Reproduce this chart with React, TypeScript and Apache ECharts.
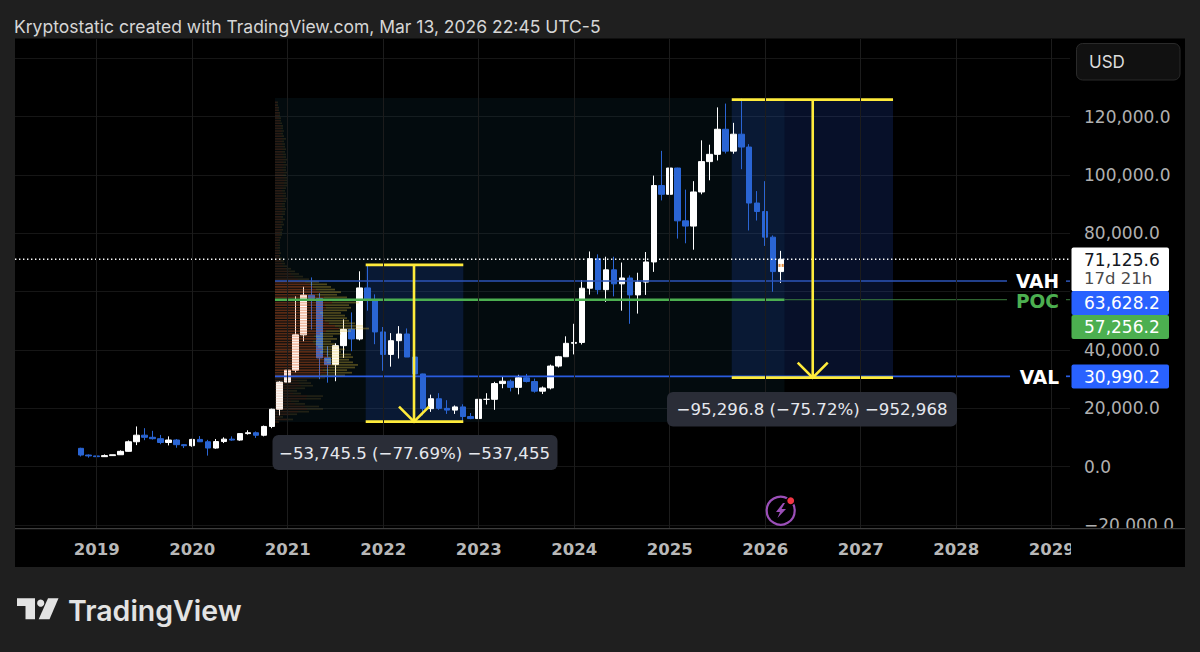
import React, { useEffect, useRef } from "react";
import * as echarts from "echarts";

const months = [
  "2018-11","2018-12",
  "2019-01","2019-02","2019-03","2019-04","2019-05","2019-06","2019-07","2019-08","2019-09","2019-10","2019-11","2019-12",
  "2020-01","2020-02","2020-03","2020-04","2020-05","2020-06","2020-07","2020-08","2020-09","2020-10","2020-11","2020-12",
  "2021-01","2021-02","2021-03","2021-04","2021-05","2021-06","2021-07","2021-08","2021-09","2021-10","2021-11","2021-12",
  "2022-01","2022-02","2022-03","2022-04","2022-05","2022-06","2022-07","2022-08","2022-09","2022-10","2022-11","2022-12",
  "2023-01","2023-02","2023-03","2023-04","2023-05","2023-06","2023-07","2023-08","2023-09","2023-10","2023-11","2023-12",
  "2024-01","2024-02","2024-03","2024-04","2024-05","2024-06","2024-07","2024-08","2024-09","2024-10","2024-11","2024-12",
  "2025-01","2025-02","2025-03","2025-04","2025-05","2025-06","2025-07","2025-08","2025-09","2025-10","2025-11","2025-12",
  "2026-01","2026-02","2026-03",
];
const opens = [6300,4000,3700,3440,3800,4100,5270,8550,10800,10080,9600,8300,9150,7550,7200,9350,8550,6400,8620,9450,9140,11350,11650,10780,13800,19700,29000,33100,45200,58800,57700,37300,35000,41500,47100,43800,61300,57000,46200,38500,43200,45500,37600,31800,19900,23300,20000,19400,20500,17200,16500,23100,23100,28500,29300,27200,30500,29200,25900,27000,34500,37700,42300,42600,61200,71300,60700,67500,62700,64700,58900,63300,70200,96400,93400,102400,84300,82500,94200,104600,107100,115700,108200,114000,109600,90400,87500,78700,66900];
const highs = [6500,4200,4100,4200,4100,5600,9000,13800,13200,12300,10900,10400,9500,7750,9550,10500,9200,9500,10070,10400,11400,12480,12070,14100,19900,29300,41900,58400,61700,64900,59500,41300,42300,50500,52900,67000,69000,59100,47900,45800,48200,47400,40000,31900,24700,25200,22800,21000,21400,18400,23900,25200,29100,31000,29900,31500,31800,30200,27500,35000,38000,44700,49000,64000,73800,72800,72000,72000,70000,65600,66500,73600,99800,108300,109000,102500,95000,97900,111900,110400,123200,124500,117900,126200,110600,94500,97900,79300,74000];
const lows = [3500,3100,3350,3350,3700,4100,5350,7400,9100,9300,7700,7300,6500,6400,6850,8500,3800,6150,8100,8900,8900,11000,9880,10400,13200,17600,28000,32300,43000,47000,30000,28800,29300,37300,39600,43300,53500,42000,32900,34300,37100,37600,26500,17600,18800,19500,18100,18100,15500,16300,16500,21300,19500,26900,25800,24800,28900,25400,24900,26500,34000,37600,38500,41900,59000,59100,56500,58400,53500,49000,52500,58900,66800,91300,89200,78200,76600,74400,93400,98200,105000,107400,107300,102000,81000,84400,75700,60000,63000];
const closes = [4000,3700,3440,3800,4100,5270,8550,10800,10080,9600,8300,9150,7550,7200,9350,8550,6400,8620,9450,9140,11350,11650,10780,13800,19700,29000,33100,45200,58800,57700,37300,35000,41500,47100,43800,61300,57000,46200,38500,43200,45500,37600,31800,19900,23300,20000,19400,20500,17200,16500,23100,23100,28500,29300,27200,30500,29200,25900,27000,34500,37700,42300,42600,61200,71300,60700,67500,62700,64700,58900,63300,70200,96400,93400,102400,84300,82500,94200,104600,107100,115700,108200,114000,109600,90400,87500,78700,66900,71125.6];

const yearTicks = [2019,2020,2021,2022,2023,2024,2025,2026,2027,2028,2029];
const priceTicks = [-20000,0,20000,40000,60000,80000,100000,120000,140000];
const priceTickLabels = [-20000,0,20000,40000,80000,100000,120000];

const currentPrice = 71125.6;
const vahPrice = 63628.2;
const pocPrice = 57256.2;
const valPrice = 30990.2;

const profileBottom = 15300;
const profileStep = 891;
const profileLeftVol = [3,12,5,15,23,32,30,20,16,31,32,18,15,20,26,24,22,34,46,52,48,54,56,52,50,53,51,45,47,43,40,38,42,39,45,51,64,60,54,50,49,47,45,49,51,50,57,62,49,42,45,41,38,35,30,23,19,16,14,11,8,7,6,
  5,4,4,4,3,4,3,4,4,5,5,6,5,6,6,7,6,7,7,8,7,7,8,9,8,8,7,8,9,9,10,9,8,9,8,8,9,8,9,8,8,7,8,8,7,7,8,7,6,7,6,6,5,5,4,4,4,3,3,2,2];
const profileRightVol = [1,6,3,7,11,16,14,10,8,15,16,8,7,10,12,12,10,16,24,25,24,26,27,26,24,25,25,21,23,21,20,18,20,19,21,25,30,28,26,24,23,23,21,23,25,24,27,30,23,20,21,19,18,17,14,11,9,8,6,5,4,3,3,
  2,1,2,1,2,1,2,1,2,2,2,2,2,3,2,3,2,3,3,3,3,3,3,3,3,3,3,3,3,4,3,3,3,3,3,3,3,3,3,3,3,3,3,2,3,2,3,2,2,2,2,2,2,1,2,1,1,1,1,1,1];

const measureOneFrom = 69198;
const measureOneTo = 15452.5;
const measureTwoFrom = 125853.8;
const measureTwoTo = 30557;

const X_MIN = 2018.1448;
const X_MAX = 2029.192;
const FONT = "Inter, 'Noto Sans', sans-serif";
const NUM_FONT = "'DejaVu Sans', sans-serif";
const BLUE = "#2a65d4";
const YELLOW = "#ffeb3b";

const fmtPrice = (v: number) =>
  (v < 0 ? "\u2212" : "") + Math.abs(v).toLocaleString("en-US", { minimumFractionDigits: 1, maximumFractionDigits: 1 });
const xOf = (m: string) => {
  const [y, mo] = m.split("-").map(Number);
  return y + (mo - 1) / 12;
};

function overlay(z: number, draw: (api: any) => any[]) {
  return {
    type: "custom",
    z,
    silent: true,
    clip: false,
    xAxisIndex: 0,
    yAxisIndex: 0,
    data: [[2020, 0]],
    encode: { x: 0, y: 1 },
    renderItem: (_p: any, api: any) => ({ type: "group", children: draw(api) }),
  };
}
function boxShape(api: any, x1: number, x2: number, p1: number, p2: number, fill: string) {
  const a = api.coord([x1, p1]);
  const b = api.coord([x2, p2]);
  return { type: "rect", shape: { x: a[0], y: a[1], width: b[0] - a[0], height: b[1] - a[1] }, style: { fill } };
}
function hLine(api: any, x1: number, x2: number, p: number, stroke: string, lineWidth: number, lineDash?: number[]) {
  const a = api.coord([x1, p]);
  const b = api.coord([x2, p]);
  return { type: "line", shape: { x1: a[0], y1: a[1], x2: b[0], y2: b[1] }, style: { stroke, lineWidth, lineDash } };
}
function measure(api: any, left: number, right: number, mid: number, from: number, to: number) {
  const t = api.coord([mid, from]);
  const b = api.coord([mid, to]);
  return [
    hLine(api, left, right, from, YELLOW, 2.8),
    hLine(api, left, right, to, YELLOW, 2.8),
    { type: "line", shape: { x1: t[0], y1: t[1], x2: b[0], y2: b[1] }, style: { stroke: YELLOW, lineWidth: 2.6 } },
    {
      type: "polyline",
      shape: { points: [[b[0] - 15, b[1] - 15], [b[0], b[1]], [b[0] + 15, b[1] - 15]] },
      style: { stroke: YELLOW, lineWidth: 2.6, fill: "none" },
    },
  ];
}

const txt = (text: string, x: number, y: number, size: number, fill: string, z = 100, weight: any = 400, align = "left", family = FONT) => ({
  type: "text", x, y, z, silent: true,
  style: { text, fill, fontSize: size, fontWeight: weight, fontFamily: family, textAlign: align, textVerticalAlign: "middle" },
});
const box = (x: number, y: number, w: number, h: number, fill: string, z = 90, r = 0, stroke?: string) => ({
  type: "rect", z, silent: true,
  shape: { x, y, width: w, height: h, r },
  style: { fill, stroke, lineWidth: stroke ? 1 : 0 },
});

export default function App() {
  const ref = useRef<HTMLDivElement>(null);
  useEffect(() => {
    document.body.style.margin = "0";
    document.body.style.background = "#1f1f1f";
    const chart = echarts.init(ref.current!, undefined, { renderer: "svg" });

    const candleData = months.map((m, i) => [xOf(m), opens[i], closes[i], lows[i], highs[i]]);
    const profileData = profileLeftVol.map((l, i) => [profileBottom + i * profileStep, l, profileRightVol[i] ?? 0]);

    const graphicEls: any[] = [
      box(15, 38.5, 1170, 528.5, "#000000", -1),
      box(15, 529, 1170, 38, "#000000", 50),
      box(1071, 530, 114, 37, "#000000", 70),
      box(15, 528, 1170, 1.2, "#3d3d3d", 80),
      txt("Kryptostatic created with TradingView.com, Mar 13, 2026 22:45 UTC-5", 14, 26, 17.5, "#d6d6d6"),
      box(1076.5, 43.5, 103.5, 36.5, "#111111", 90, 6, "#2a2a2a"),
      txt("USD", 1089, 62, 17, "#dddddd"),
      box(1071.5, 247.5, 97.5, 44, "#ffffff", 90, 2),
      txt("71,125.6", 1084, 259.5, 17, "#131722", 100, 400, "left", NUM_FONT),
      txt("17d 21h", 1084, 278.5, 16.5, "#4a4a4a", 100, 400, "left", NUM_FONT),
      box(1071.5, 291, 97.5, 24, "#2962ff", 91, 2),
      txt("63,628.2", 1084, 303, 17, "#ffffff", 100, 400, "left", NUM_FONT),
      box(1071.5, 315, 97.5, 24, "#4caf50", 91, 2),
      txt("57,256.2", 1084, 327, 17, "#ffffff", 100, 400, "left", NUM_FONT),
      box(1071.5, 364.5, 97.5, 24, "#2962ff", 91, 2),
      txt("30,990.2", 1084, 376.5, 17, "#ffffff", 100, 400, "left", NUM_FONT),
      txt("VAH", 1059, 281, 18.6, "#ffffff", 100, 700, "right", NUM_FONT),
      txt("POC", 1059, 301.5, 18.6, "#4caf50", 100, 700, "right", NUM_FONT),
      txt("VAL", 1059, 377.5, 18.6, "#ffffff", 100, 700, "right", NUM_FONT),
      box(272.5, 435, 285, 35, "#2a2d37", 90, 6),
      txt("\u221253,745.5 (\u221277.69%) \u2212537,455", 414.5, 453, 16.6, "#e6e8ee", 100, 400, "center", NUM_FONT),
      box(667, 392, 290, 34.5, "#2a2d37", 90, 6),
      txt("\u221295,296.8 (\u221275.72%) \u2212952,968", 812, 409.5, 16.6, "#e6e8ee", 100, 400, "center", NUM_FONT),
      { type: "circle", z: 90, silent: true, shape: { cx: 780.7, cy: 510.7, r: 14 }, style: { fill: "none", stroke: "#9b4fb8", lineWidth: 2.2 } },
      { type: "circle", z: 91, silent: true, shape: { cx: 790.7, cy: 500.7, r: 4.6 }, style: { fill: "#000000" } },
      { type: "circle", z: 92, silent: true, shape: { cx: 790.7, cy: 500.7, r: 3.4 }, style: { fill: "#f23645" } },
      { type: "polygon", z: 91, silent: true, shape: { points: [[783, 503], [776, 512], [780, 512], [777.5, 518], [786, 509], [781.5, 509], [785, 503]] }, style: { fill: "#9b4fb8" } },
      { type: "polygon", z: 90, silent: true, shape: { points: [[17, 598.3], [35, 598.3], [35, 619.3], [25.5, 619.3], [25.5, 606], [17, 606]] }, style: { fill: "#e3e3e3" } },
      { type: "circle", z: 90, silent: true, shape: { cx: 40.7, cy: 603.2, r: 3.6 }, style: { fill: "#e3e3e3" } },
      { type: "polygon", z: 90, silent: true, shape: { points: [[48, 598.3], [58.5, 598.3], [49.5, 619.3], [38.7, 619.3]] }, style: { fill: "#e3e3e3" } },
      txt("TradingView", 68, 610, 28.5, "#e3e3e3", 90, 600),
    ];

    const option: any = {
      animation: false,
      backgroundColor: "#1f1f1f",
      textStyle: { fontFamily: FONT },
      grid: { left: 15, top: 39, width: 1055, height: 490, containLabel: false },
      xAxis: [
        {
          type: "value",
          min: X_MIN,
          max: X_MAX,
          z: 60,
          axisLine: { show: false },
          axisTick: { show: false, customValues: yearTicks },
          splitLine: { show: true, lineStyle: { color: "#1c1c1c", width: 1 } },
          axisLabel: {
            customValues: yearTicks,
            margin: 12,
            color: "#b8b8b8",
            fontSize: 16.5,
            fontWeight: 700,
            fontFamily: NUM_FONT,
            formatter: (v: number) => String(Math.round(v)),
          },
        },
        { type: "value", show: false, min: -260, max: 795, splitLine: { show: false } },
      ],
      yAxis: [
        {
          type: "value",
          position: "right",
          min: -21361,
          max: 146644,
          axisLine: { show: false },
          axisTick: { show: false, customValues: priceTicks },
          splitLine: { show: true, lineStyle: { color: "#161616", width: 1 } },
          axisLabel: {
            customValues: priceTickLabels,
            margin: 14,
            color: "#b0b0b0",
            fontSize: 17,
            fontFamily: NUM_FONT,
            formatter: (v: number) => fmtPrice(v),
          },
        },
      ],
      graphic: { elements: graphicEls },
      series: [
        overlay(1, (api) => [
          boxShape(api, 2020.867, 2026.202, 126400, 15300, "rgba(20,70,90,0.16)"),
          boxShape(api, 2021.817, 2022.839, measureOneFrom, measureOneTo, "rgba(41,98,255,0.16)"),
          boxShape(api, 2025.65, 2027.339, measureTwoFrom, measureTwoTo, "rgba(41,98,255,0.16)"),
        ]),
        {
          type: "candlestick",
          z: 3,
          silent: true,
          barWidth: 6,
          encode: { x: 0, y: [1, 2, 3, 4] },
          data: candleData,
          itemStyle: { color: "#ffffff", color0: BLUE, borderColor: "#ffffff", borderColor0: BLUE, borderWidth: 1 },
        },
        {
          type: "custom",
          z: 4,
          silent: true,
          xAxisIndex: 1,
          yAxisIndex: 0,
          data: profileData,
          encode: { x: 1, y: 0 },
          renderItem: (_p: any, api: any) => {
            const price = api.value(0);
            const inVA = price >= valPrice && price <= vahPrice;
            const a = api.coord([0, price]);
            const b = api.coord([api.value(1), price]);
            const c = api.coord([api.value(1) + api.value(2), price]);
            const h = Math.abs(api.size([0, profileStep])[1]) - 0.9;
            const y = a[1] - h / 2;
            return {
              type: "group",
              children: [
                { type: "rect", shape: { x: a[0], y, width: b[0] - a[0], height: h }, style: { fill: inVA ? "rgba(220,90,30,0.4)" : "rgba(200,95,40,0.2)" } },
                { type: "rect", shape: { x: b[0], y, width: c[0] - b[0], height: h }, style: { fill: inVA ? "rgba(225,190,60,0.34)" : "rgba(190,150,60,0.16)" } },
              ],
            };
          },
        },
        overlay(5, (api) => {
          const last = api.coord([xOf("2026-03"), currentPrice - 1600]);
          return [
            hLine(api, X_MIN, X_MAX, currentPrice, "#ffffff", 1.3, [1.4, 2.6]),
            hLine(api, 2020.867, 2028.532, vahPrice, "#2d55b8", 1.5),
            hLine(api, 2029.15, X_MAX, vahPrice, "#2d55b8", 1.5),
            hLine(api, 2020.867, 2026.202, pocPrice, "#4caf50", 2.4),
            hLine(api, 2026.202, 2028.532, pocPrice, "#3a7d3e", 1),
            hLine(api, 2029.15, X_MAX, pocPrice, "#3a7d3e", 1),
            hLine(api, 2020.867, 2028.564, valPrice, "#2a5ce0", 1.7),
            hLine(api, 2029.15, X_MAX, valPrice, "#2a5ce0", 1.7),
            { type: "rect", shape: { x: last[0] - 2.6, y: last[1], width: 2, height: 3 }, style: { fill: "#e08a3c" } },
            { type: "rect", shape: { x: last[0] + 0.6, y: last[1], width: 2, height: 3 }, style: { fill: "#e08a3c" } },
          ];
        }),
        overlay(6, (api) => [
          ...measure(api, 2021.817, 2022.839, 2022.323, measureOneFrom, measureOneTo),
          ...measure(api, 2025.65, 2027.339, 2026.498, measureTwoFrom, measureTwoTo),
        ]),
      ],
    };
    chart.setOption(option);
    return () => chart.dispose();
  }, []);
  return <div ref={ref} style={{ width: 1200, height: 652 }} />;
}
